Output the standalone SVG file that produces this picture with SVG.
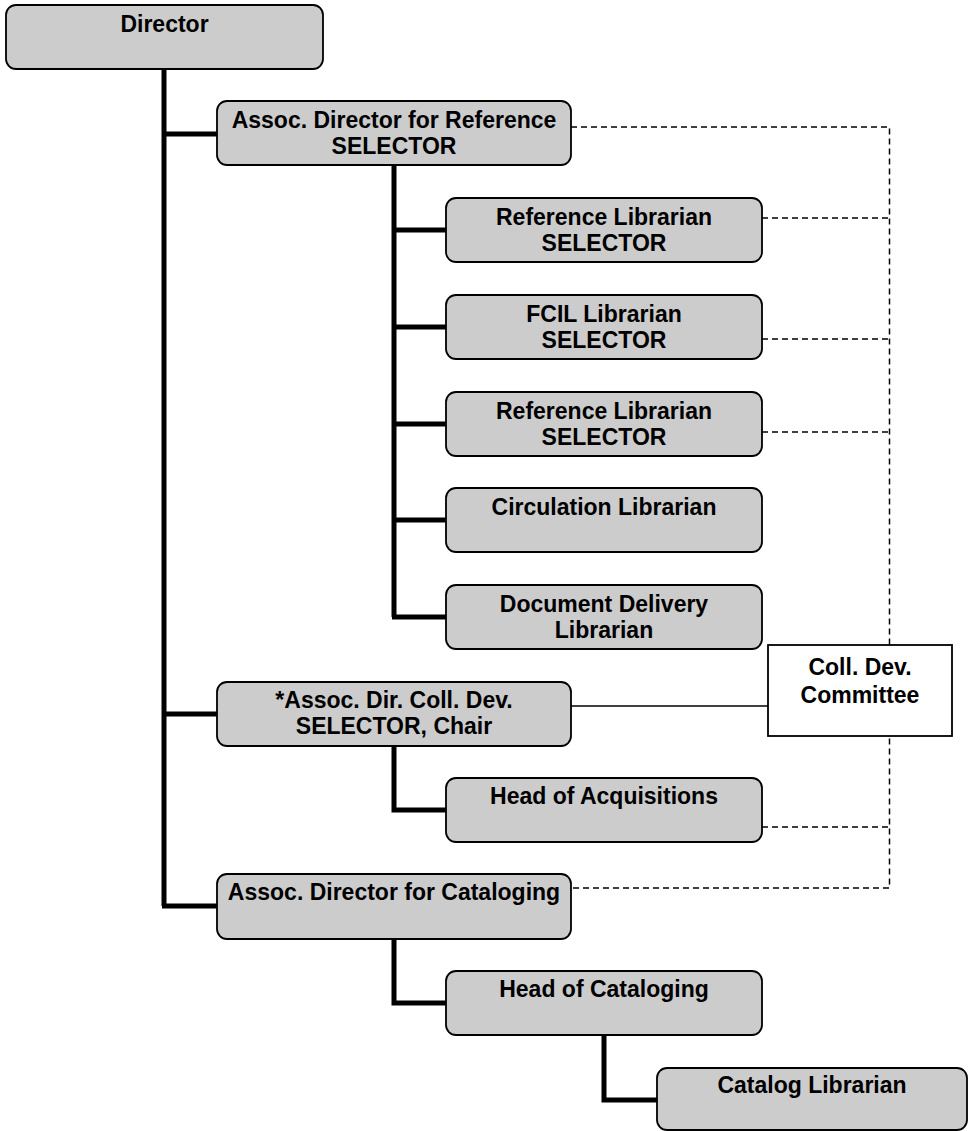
<svg xmlns="http://www.w3.org/2000/svg" width="972" height="1131" viewBox="0 0 972 1131">
  <style>
    .box { fill: #cccccc; stroke: #000; stroke-width: 1.8; }
    .cmt { fill: #ffffff; stroke: #000; stroke-width: 1.8; }
    .lbl { font-family: "Liberation Sans", Arial, sans-serif; font-weight: bold; font-size: 23px; fill: #000; text-anchor: middle; }
    .tree { fill: none; stroke: #000; stroke-width: 5; stroke-linejoin: miter; stroke-linecap: butt; }
    .dash { fill: none; stroke: #000; stroke-width: 1.5; stroke-dasharray: 6 4; }
    .link { fill: none; stroke: #000; stroke-width: 1.6; }
  </style>
  <rect width="972" height="1131" fill="#ffffff"/>

  <!-- reporting lines and committee links -->
  <g id="connectors">
    <path class="tree" d="M164,69 V906 M162,134 H217 M162,714 H217 M162,906 H217"/>
    <path class="tree" d="M394,165 V617 M392,230 H446 M392,327 H446 M392,424 H446 M392,520 H446 M392,617 H446"/>
    <path class="tree" d="M394,746 V810 H446"/>
    <path class="tree" d="M394,939 V1003 H446"/>
    <path class="tree" d="M604,1035 V1100 H657"/>
    <path class="dash" d="M571,127 H889.5 V888 H570"/>
    <path class="dash" d="M762,218 H889.5 M762,339 H889.5 M762,432 H889.5 M762,827 H889.5"/>
    <path class="link" d="M571,706 H768"/>
  </g>

  <g id="director">
    <rect class="box" x="6" y="5" width="317" height="64" rx="10"/>
    <text class="lbl" x="164.5" y="32">Director</text>
  </g>

  <g id="assoc-reference">
    <rect class="box" x="217" y="101" width="354" height="64" rx="10"/>
    <text class="lbl" x="394" y="128">Assoc. Director for Reference</text>
    <text class="lbl" x="394" y="154">SELECTOR</text>
  </g>

  <g id="reference-librarian-1">
    <rect class="box" x="446" y="198" width="316" height="64" rx="10"/>
    <text class="lbl" x="604" y="225">Reference Librarian</text>
    <text class="lbl" x="604" y="251">SELECTOR</text>
  </g>

  <g id="fcil-librarian">
    <rect class="box" x="446" y="295" width="316" height="64" rx="10"/>
    <text class="lbl" x="604" y="322">FCIL Librarian</text>
    <text class="lbl" x="604" y="348">SELECTOR</text>
  </g>

  <g id="reference-librarian-2">
    <rect class="box" x="446" y="392" width="316" height="64" rx="10"/>
    <text class="lbl" x="604" y="419">Reference Librarian</text>
    <text class="lbl" x="604" y="445">SELECTOR</text>
  </g>

  <g id="circulation-librarian">
    <rect class="box" x="446" y="488" width="316" height="64" rx="10"/>
    <text class="lbl" x="604" y="515">Circulation Librarian</text>
  </g>

  <g id="document-delivery">
    <rect class="box" x="446" y="585" width="316" height="64" rx="10"/>
    <text class="lbl" x="604" y="612">Document Delivery</text>
    <text class="lbl" x="604" y="638">Librarian</text>
  </g>

  <g id="assoc-coll-dev">
    <rect class="box" x="217" y="682" width="354" height="64" rx="10"/>
    <text class="lbl" x="394" y="708">*Assoc. Dir. Coll. Dev.</text>
    <text class="lbl" x="394" y="734">SELECTOR, Chair</text>
  </g>

  <g id="coll-dev-committee">
    <rect class="cmt" x="768" y="645" width="184" height="91"/>
    <text class="lbl" x="860" y="675">Coll. Dev.</text>
    <text class="lbl" x="860" y="703">Committee</text>
  </g>

  <g id="head-acquisitions">
    <rect class="box" x="446" y="778" width="316" height="64" rx="10"/>
    <text class="lbl" x="604" y="804">Head of Acquisitions</text>
  </g>

  <g id="assoc-cataloging">
    <rect class="box" x="217" y="874" width="354" height="65" rx="10"/>
    <text class="lbl" x="394" y="900">Assoc. Director for Cataloging</text>
  </g>

  <g id="head-cataloging">
    <rect class="box" x="446" y="971" width="316" height="64" rx="10"/>
    <text class="lbl" x="604" y="997">Head of Cataloging</text>
  </g>

  <g id="catalog-librarian">
    <rect class="box" x="657" y="1068" width="310" height="62" rx="10"/>
    <text class="lbl" x="812" y="1093">Catalog Librarian</text>
  </g>
</svg>
